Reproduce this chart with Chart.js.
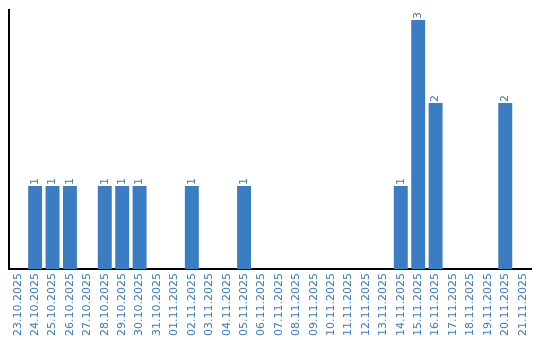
<!DOCTYPE html>
<html>
<head>
<meta charset="utf-8">
<script src="https://cdn.jsdelivr.net/npm/chart.js@4/dist/chart.umd.min.js"></script>
<style>
  html, body { margin: 0; padding: 0; background: #fff; }
</style>
</head>
<body>
<canvas id="chart" width="540" height="340"></canvas>
<script>
// categories (days)
const days = [
  '23.10.2025', '24.10.2025', '25.10.2025', '26.10.2025', '27.10.2025',
  '28.10.2025', '29.10.2025', '30.10.2025', '31.10.2025', '01.11.2025',
  '02.11.2025', '03.11.2025', '04.11.2025', '05.11.2025', '06.11.2025',
  '07.11.2025', '08.11.2025', '09.11.2025', '10.11.2025', '11.11.2025',
  '12.11.2025', '13.11.2025', '14.11.2025', '15.11.2025', '16.11.2025',
  '17.11.2025', '18.11.2025', '19.11.2025', '20.11.2025', '21.11.2025'
];
// count per day
const counts = [0, 1, 1, 1, 0, 1, 1, 1, 0, 0, 1, 0, 0, 1, 0, 0, 0, 0, 0, 0, 0, 0, 1, 3, 2, 0, 0, 0, 2, 0];

const blue = '#3a7dc2';
const labelBlue = '#3b7cc0';

// value labels above bars, turned on their side
const barLabels = {
  id: 'barLabels',
  afterDatasetsDraw(chart) {
    const ctx = chart.ctx;
    const meta = chart.getDatasetMeta(0);
    ctx.save();
    ctx.fillStyle = labelBlue;
    ctx.font = '11px "DejaVu Sans"';
    ctx.textAlign = 'left';
    ctx.textBaseline = 'middle';
    meta.data.forEach((bar, i) => {
      if (!counts[i]) return;
      ctx.save();
      ctx.translate(bar.x, bar.y - 1);
      ctx.rotate(-Math.PI / 2);
      ctx.fillText(String(counts[i]), 0, 0);
      ctx.restore();
    });
    ctx.restore();
  }
};

new Chart(document.getElementById('chart').getContext('2d'), {
  type: 'bar',
  data: {
    labels: days,
    datasets: [{
      data: counts,
      backgroundColor: blue,
      barPercentage: 0.8,
      categoryPercentage: 1
    }]
  },
  options: {
    responsive: false,
    animation: false,
    layout: { padding: { left: 9, right: 8, top: 10 } },
    plugins: { legend: { display: false }, tooltip: { enabled: false } },
    scales: {
      x: {
        grid: { display: false, drawTicks: false },
        border: { color: '#000', width: 2 },
        ticks: {
          color: labelBlue,
          font: { family: 'DejaVu Sans', size: 11 },
          maxRotation: 90,
          minRotation: 90,
          autoSkip: false,
          padding: 4
        }
      },
      y: {
        min: 0,
        max: 3.12,
        grid: { display: false, drawTicks: false },
        border: { color: '#000', width: 2 },
        ticks: { display: false }
      }
    }
  },
  plugins: [barLabels]
});
</script>
</body>
</html>
